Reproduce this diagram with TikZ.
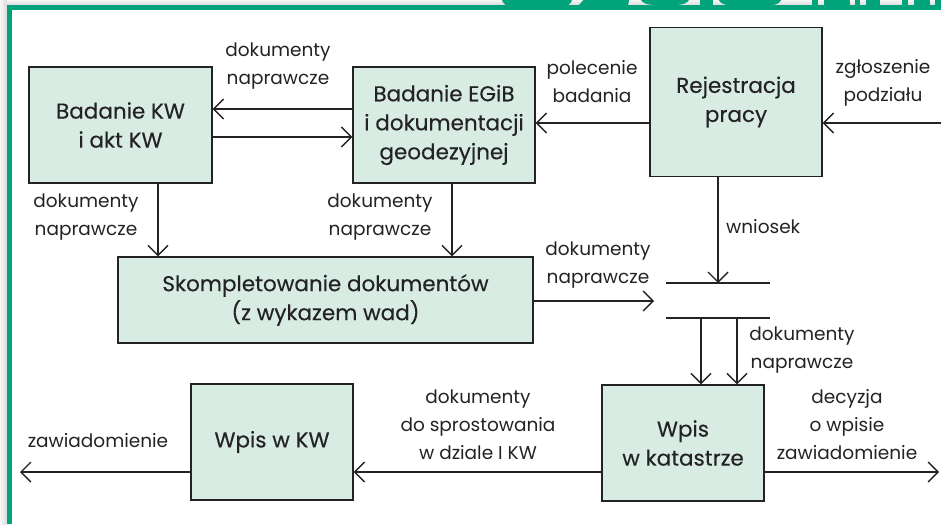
\documentclass[tikz,border=0pt]{standalone}
\usepackage{fontspec}
\setmainfont{Poppins}
\newfontfamily\boxfont[FakeBold=0.3]{Poppins}
\usetikzlibrary{arrows.meta}
\definecolor{framegreen}{RGB}{0,163,122}
\definecolor{boxfill}{RGB}{217,236,228}
\definecolor{ink}{RGB}{35,35,35}
\tikzset{
  blk/.style={draw=ink, fill=boxfill, line width=1.4pt, align=center, text=ink, inner sep=0pt,
    font=\boxfont\fontsize{21.5}{29}\selectfont},
  lbl/.style={align=center, text=ink, inner sep=0pt, font=\fontsize{18.5}{28}\selectfont},
  arr/.style={draw=ink, line width=1.4pt, -{Straight Barb[length=10pt,width=20pt,line width=1.4pt]}},
  ln/.style={draw=ink, line width=1.4pt},
  logopart/.style={fill=framegreen}
}
\begin{document}
\begin{tikzpicture}[x=1pt,y=-1pt]
\useasboundingbox (0,0) rectangle (941,524);
% background and frame
\shade[left color=gray!6, right color=gray!28] (0,0) rectangle (7,524);
\shade[top color=gray!8, bottom color=gray!28] (7,0) rectangle (941,5);
\fill[white] (12,10) rectangle (941,524);
% partial logo letters cut by the top edge
\begin{scope}
  \clip (7,0) rectangle (941,6);
  \fill[logopart] (502,-10) rectangle (572,-2) (502,-2) to[out=-90,in=180] (537,5) to[out=0,in=-90] (572,-2) -- cycle;
  \fill[logopart] (588,-5) -- (630,-5) -- (628,6) -- (578,6) -- cycle;
  \fill[logopart] (640,-4) to[out=-90,in=180] (665,5) to[out=0,in=-90] (690,-4) -- cycle;
  \fill[logopart] (700,-5) rectangle (713,6);
  \fill[logopart] (718,-4) to[out=-90,in=180] (750,5) to[out=0,in=-90] (782,-4) -- cycle;
  \fill[logopart] (812,-5) rectangle (818,6);
  \fill[logopart] (824,-5) rectangle (850,6);
  \fill[logopart] (855,-5) rectangle (860,6);
  \fill[logopart] (866,-5) rectangle (880,6);
  \fill[logopart] (902,-5) rectangle (908,6);
  \fill[logopart] (914,-5) rectangle (930,6);
  \fill[logopart] (935,-5) rectangle (941,6);
\end{scope}
\fill[framegreen] (7,5) rectangle (12,524);
\fill[framegreen] (7,5) rectangle (941,10);

% boxes
\node[blk, minimum width=183pt, minimum height=116pt] (kw) at (120.5,125) {Badanie KW\\i akt KW};
\node[blk, minimum width=182pt, minimum height=116pt] (egib) at (444,125) {Badanie EGiB\\i dokumentacji\\geodezyjnej};
\node[blk, minimum width=172pt, minimum height=149pt] (rej) at (736,102) {Rejestracja\\pracy};
\node[blk, minimum width=415pt, minimum height=86pt] (skom) at (325.5,300) {Skompletowanie dokumentów\\(z wykazem wad)};
\node[blk, minimum width=162pt, minimum height=116pt] (wkat) at (683,443) {Wpis\\w katastrze};
\node[blk, minimum width=162pt, minimum height=116pt] (wkw) at (272,442) {Wpis w KW};

% helper coordinates
\coordinate (y109) at (0,109);
\coordinate (y137) at (0,137);
\coordinate (y123) at (0,123);
\coordinate (x158) at (158,0);
\coordinate (x452) at (452,0);
\coordinate (x718) at (718,0);
\coordinate (x701) at (701,0);
\coordinate (x737) at (737,0);
\coordinate (y301) at (0,301);
\coordinate (y472) at (0,472);
\coordinate (inR) at (941,123);
\coordinate (b1w) at (666,283);
\coordinate (b1e) at (770,283);
\coordinate (b2w) at (666,318);
\coordinate (b2e) at (770,318);
\coordinate (jin) at (654,301);
\coordinate (outR) at (939,472);
\coordinate (outL) at (20,472);

% connectors
\draw[arr] (egib.west|-y109) -- (kw.east|-y109);
\draw[arr] (kw.east|-y137) -- (egib.west|-y137);
\draw[arr] (rej.west|-y123) -- (egib.east|-y123);
\draw[arr] (inR) -- (rej.east|-y123);
\draw[arr] (kw.south-|x158) -- (skom.north-|x158);
\draw[arr] (egib.south-|x452) -- (skom.north-|x452);
\draw[ln] (b1w) -- (b1e);
\draw[ln] (b2w) -- (b2e);
\draw[arr] (rej.south-|x718) -- (b1w-|x718);
\draw[arr] (skom.east|-y301) -- (jin);
\draw[arr] (b2w-|x701) -- (wkat.north-|x701);
\draw[arr] (b2w-|x737) -- (wkat.north-|x737);
\draw[arr] (wkat.west|-y472) -- (wkw.east|-y472);
\draw[arr] (wkat.east|-y472) -- (outR);
\draw[arr] (wkw.west|-y472) -- (outL);

% labels
\node[lbl] (l1) at (278,66) {dokumenty\\naprawcze};
\node[lbl] (l2) at (86,217.5) {dokumenty\\naprawcze};
\node[lbl] (l3) at (380,217.5) {dokumenty\\naprawcze};
\node[lbl] (l4) at (592,82) {polecenie\\badania};
\node[lbl] (l5) at (883,82.5) {zgłoszenie\\podziału};
\node[lbl, anchor=west] (l6) at (726,227) {wniosek};
\node[lbl] (l7) at (598,265) {dokumenty\\naprawcze};
\node[lbl] (l8) at (802,350.5) {dokumenty\\naprawcze};
\node[lbl] (l9) at (478,425) {dokumenty\\do sprostowania\\w dziale I KW};
\node[lbl] (l10) at (847,425) {decyzja\\o wpisie\\zawiadomienie};
\node[lbl] (l11) at (98,441) {zawiadomienie};
\end{tikzpicture}
\end{document}
